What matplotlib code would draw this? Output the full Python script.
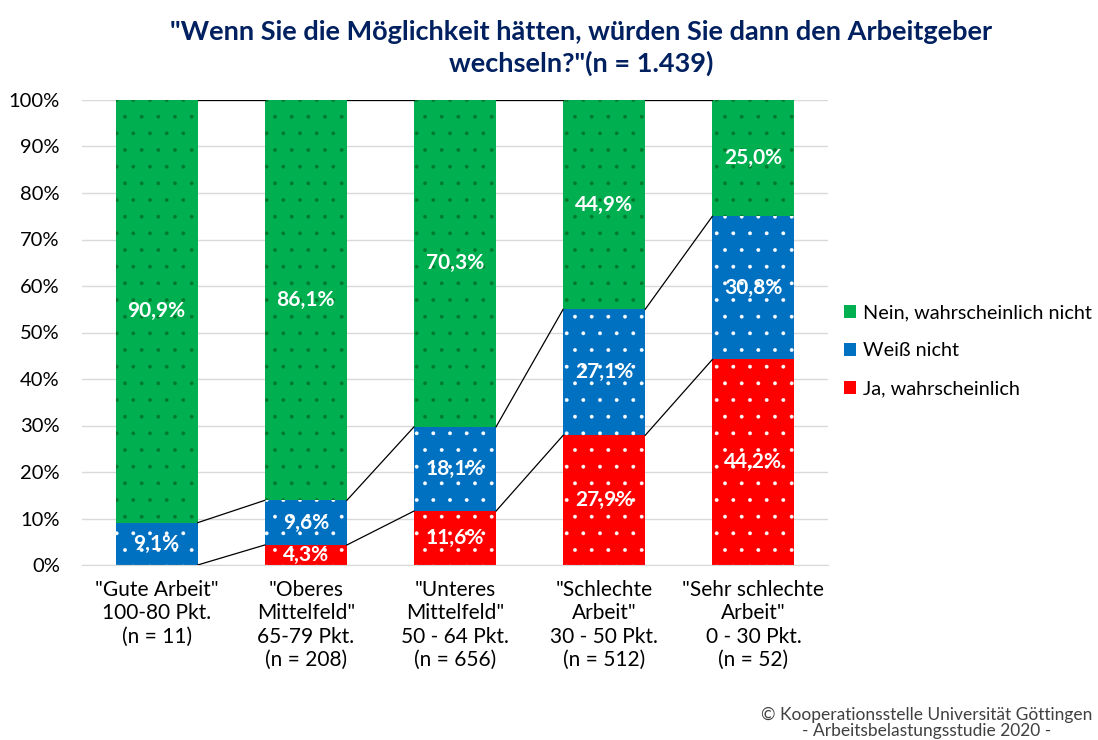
import matplotlib
matplotlib.use("Agg")
import matplotlib.pyplot as plt
import numpy as np

plt.rcParams['font.family'] = ['Lato', 'DejaVu Sans']
plt.rcParams['hatch.linewidth'] = 0.3

categories = ['"Gute Arbeit"\n100-80 Pkt.\n(n = 11)',
              '"Oberes\nMittelfeld"\n65-79 Pkt.\n(n = 208)',
              '"Unteres\nMittelfeld"\n50 - 64 Pkt.\n(n = 656)',
              '"Schlechte\nArbeit"\n30 - 50 Pkt.\n(n = 512)',
              '"Sehr schlechte\nArbeit"\n0 - 30 Pkt.\n(n = 52)']
ja = [0.0, 4.3, 11.6, 27.9, 44.2]
weiss = [9.1, 9.6, 18.1, 27.1, 30.8]
nein = [90.9, 86.1, 70.3, 44.9, 25.0]
series_names = ['Ja, wahrscheinlich', 'Weiß nicht', 'Nein, wahrscheinlich nicht']
colors = ['#FF0000', '#0070C0', '#00B050']
dotcolors = ['white', 'white', '#007A2E']

fig = plt.figure(figsize=(10.98, 7.40), dpi=100)
ax = fig.add_axes([82/1098, 1-565/740, (828-82)/1098, (565-100)/740])

x = np.arange(len(categories))
w = 0.55
bottoms = np.zeros(len(categories))
handles = []
tops_list = []
for vals, name, c, dc in zip([ja, weiss, nein], series_names, colors, dotcolors):
    vals = np.array(vals)
    bars = ax.bar(x, vals, w, bottom=bottoms, color=c, edgecolor=dc, linewidth=0,
                  hatch='.', label=name, zorder=2)
    handles.append(bars)
    for xi, v, b in zip(x, vals, bottoms):
        if v > 0:
            ax.text(xi, b + v/2, f'{v:.1f}%'.replace('.', ','), ha='center', va='center',
                    color='white', fontsize=15, fontweight='bold', zorder=4)
    bottoms = bottoms + vals
    tops_list.append(bottoms.copy())

# series lines
n = len(categories)
for k, tops in enumerate(tops_list):
    last = (k == len(tops_list) - 1)
    for i in range(n - 1):
        t1 = 100 if last else tops[i]
        t2 = 100 if last else tops[i+1]
        ax.plot([x[i] + w/2, x[i+1] - w/2], [t1, t2], color='black', linewidth=0.9, zorder=3)

ax.set_xlim(-0.5, n - 0.5)
ax.set_ylim(0, 100)
ax.set_yticks(np.arange(0, 101, 10))
ax.set_yticklabels([f'{v}%' for v in range(0, 101, 10)], fontsize=14.5)
ax.set_xticks(x)
ax.set_xticklabels(categories, fontsize=15, linespacing=1.2)
ax.tick_params(axis='both', length=0)
ax.tick_params(axis='y', pad=16)
ax.tick_params(axis='x', pad=11)
ax.yaxis.grid(True, color='#D9D9D9', linewidth=1, zorder=0)
ax.set_axisbelow(True)
for s in ['top', 'right', 'left']:
    ax.spines[s].set_visible(False)
ax.spines['bottom'].set_color('#D9D9D9')

leg = fig.legend(handles=handles[::-1], labels=series_names[::-1], loc='center left',
                 bbox_to_anchor=(826/1098, 1-351/740), frameon=False, fontsize=14.3,
                 handlelength=0.6, handleheight=0.6, labelspacing=1.05, handletextpad=0.35)

fig.text(581/1098, 1-48/740, '"Wenn Sie die Möglichkeit hätten, würden Sie dann den Arbeitgeber\nwechseln?"(n = 1.439)',
         ha='center', va='center', fontsize=19.5, fontweight='bold', color='#002060', linespacing=1.3)

fig.text(1092/1098, 1-723/740, '© Kooperationsstelle Universität Göttingen\n- Arbeitsbelastungsstudie 2020 -',
         ha='right', va='center', fontsize=12.5, color='#404040', multialignment='center', linespacing=0.95)

fig.savefig('out.png', dpi=100)
